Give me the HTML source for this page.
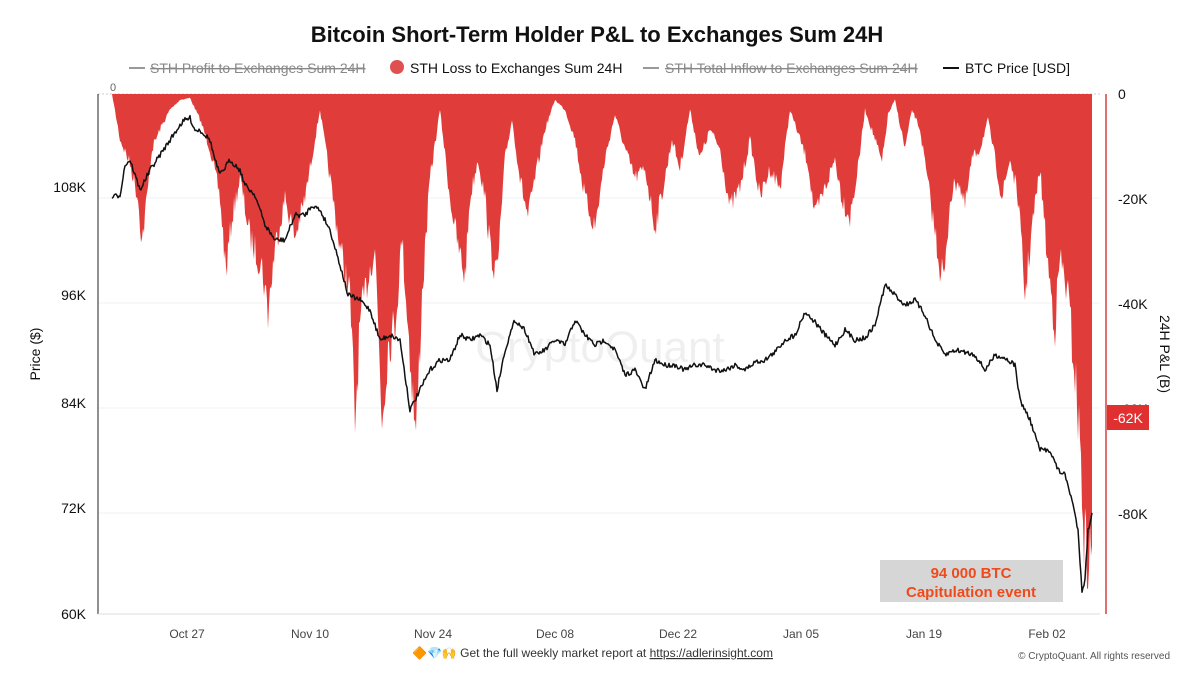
<!DOCTYPE html><html><head><meta charset="utf-8"><style>
body{margin:0;width:1200px;height:675px;background:#fff;font-family:"Liberation Sans",sans-serif;overflow:hidden}
</style></head><body>
<svg width="1200" height="675" xmlns="http://www.w3.org/2000/svg" font-family="Liberation Sans, sans-serif">
<text x="597" y="42" text-anchor="middle" font-size="22" font-weight="bold" fill="#111">Bitcoin Short-Term Holder P&amp;L to Exchanges Sum 24H</text>
<g font-size="14">
<line x1="129" y1="68" x2="145" y2="68" stroke="#999" stroke-width="2"/>
<text x="150" y="73" fill="#888" text-decoration="line-through">STH Profit to Exchanges Sum 24H</text>
<circle cx="397" cy="67" r="7" fill="#e05050"/>
<text x="410" y="73" fill="#111">STH Loss to Exchanges Sum 24H</text>
<line x1="643" y1="68" x2="659" y2="68" stroke="#999" stroke-width="2"/>
<text x="665" y="73" fill="#888" text-decoration="line-through">STH Total Inflow to Exchanges Sum 24H</text>
<line x1="943" y1="68" x2="959" y2="68" stroke="#111" stroke-width="2"/>
<text x="965" y="73" fill="#111">BTC Price [USD]</text>
</g>
<g stroke="#f0f0f0"><line x1="98" y1="94" x2="1100" y2="94" stroke-dasharray="2 2" stroke="#ccc"/><line x1="98" y1="198" x2="1100" y2="198"/><line x1="98" y1="303" x2="1100" y2="303"/><line x1="98" y1="408" x2="1100" y2="408"/><line x1="98" y1="513" x2="1100" y2="513"/></g>
<path id="red" fill="#e03c3a" d=""/>
<text x="600" y="362" text-anchor="middle" font-size="44" fill="#000" opacity="0.06">CryptoQuant</text>
<path id="price" fill="none" stroke="#111" stroke-width="1.5" stroke-linejoin="round" d=""/>
<line x1="98" y1="94" x2="98" y2="614" stroke="#222"/>
<line x1="98" y1="614" x2="1100" y2="614" stroke="#ddd"/>
<line x1="1106" y1="94" x2="1106" y2="614" stroke="#e07070" stroke-width="2"/>
<text x="110" y="91" font-size="11" fill="#666">0</text>
<g font-size="14" fill="#111" text-anchor="end"><text x="86" y="192">108K</text><text x="86" y="300">96K</text><text x="86" y="408">84K</text><text x="86" y="513">72K</text><text x="86" y="619">60K</text></g>
<g font-size="14" fill="#111"><text x="1118" y="99">0</text><text x="1118" y="204">-20K</text><text x="1118" y="309">-40K</text><text x="1118" y="414">-60K</text><text x="1118" y="519">-80K</text></g>
<rect x="1107" y="405" width="42" height="25" fill="#e03030"/><text x="1128" y="423" font-size="14" fill="#fff" text-anchor="middle">-62K</text>
<text transform="translate(40,354) rotate(-90)" font-size="14" text-anchor="middle" fill="#111">Price ($)</text>
<text transform="translate(1160,354) rotate(90)" font-size="14" text-anchor="middle" fill="#111">24H P&amp;L (B)</text>
<g font-size="12" fill="#444" text-anchor="middle"><text x="187" y="638">Oct 27</text><text x="310" y="638">Nov 10</text><text x="433" y="638">Nov 24</text><text x="555" y="638">Dec 08</text><text x="678" y="638">Dec 22</text><text x="801" y="638">Jan 05</text><text x="924" y="638">Jan 19</text><text x="1047" y="638">Feb 02</text></g>
<rect x="880" y="560" width="183" height="42" fill="#d6d6d6"/>
<text x="971" y="578" text-anchor="middle" font-size="15" font-weight="bold" fill="#f04a1a">94 000 BTC</text>
<text x="971" y="597" text-anchor="middle" font-size="15" font-weight="bold" fill="#f04a1a">Capitulation event</text>
<text x="412" y="657" font-size="12" fill="#333">🔶💎🙌 Get the full weekly market report at <tspan text-decoration="underline">https://adlerinsight.com</tspan></text>
<text x="1170" y="659" font-size="10" fill="#555" text-anchor="end">© CryptoQuant. All rights reserved</text>
</svg>
<script>
var R=[112,94,120,140,130,165,138,200,142,245,148,190,152,150,160,130,170,110,180,100,190,98,200,120,210,150,220,200,226,275,232,220,240,180,250,240,262,270,268,316,275,250,285,200,295,240,305,200,310,170,320,110,330,180,340,250,350,300,355,430,360,330,368,280,375,250,382,425,388,350,395,330,402,240,408,330,416,445,422,300,430,180,440,110,450,200,458,250,465,280,470,200,478,160,485,200,490,250,497,280,505,160,512,120,520,180,528,220,535,180,545,130,555,100,565,110,575,140,585,200,595,230,605,160,615,115,625,150,635,180,645,170,655,230,665,180,672,140,680,170,690,110,700,160,710,130,720,150,730,210,740,190,750,140,760,200,770,170,780,190,790,110,800,140,808,165,815,220,825,190,835,160,842,200,850,220,858,170,865,110,875,140,882,165,888,115,895,100,905,150,912,110,920,130,930,200,940,270,945,280,950,200,958,180,965,210,972,160,980,150,988,120,995,160,1002,200,1010,160,1018,200,1025,300,1032,230,1040,170,1048,270,1055,330,1060,260,1068,300,1075,380,1080,450,1085,560,1090,570,1092,560];
var P=[112,197,120,195,125,165,130,160,140,190,145,180,150,170,160,155,170,140,180,125,185,120,190,118,195,130,200,130,210,140,215,160,220,175,230,160,240,170,245,185,255,195,265,225,275,240,285,240,295,215,305,215,312,205,320,210,330,230,340,265,348,295,360,300,370,310,380,340,390,335,400,340,410,410,420,390,430,370,440,360,450,360,460,335,470,340,480,335,490,345,497,390,505,350,515,320,525,330,535,355,545,350,555,340,565,345,575,320,585,335,595,345,605,340,615,350,625,375,635,370,645,390,655,360,665,365,675,365,685,370,695,365,705,365,715,370,725,370,735,365,745,370,755,362,765,360,775,352,785,340,795,335,805,312,815,322,825,335,835,345,845,330,855,340,865,338,875,325,885,285,895,295,905,305,915,300,925,315,935,340,945,355,955,350,965,352,975,355,985,370,995,355,1005,358,1015,365,1020,400,1030,420,1040,450,1050,450,1058,470,1065,475,1072,500,1078,530,1082,590,1085,580,1088,530,1092,515];
var s=7;function rnd(){s=(s*16807)%2147483647;return s/2147483647;}
function interp(A,x){for(var i=0;i<A.length-2;i+=2){if(x<=A[i+2]){var t=(x-A[i])/(A[i+2]-A[i]);return A[i+1]+t*(A[i+3]-A[i+1]);}}return A[A.length-1];}
var d="M112,94";for(var x=112;x<=1092;x+=1){var y=interp(R,x);var dep=y-94;y=94+dep*(0.88+0.2*rnd());d+=" L"+x+","+y.toFixed(1);}d+=" L1092,94Z";
document.getElementById('red').setAttribute('d',d);
var p="";for(var x=112;x<=1092;x+=1){var y=interp(P,x)+(rnd()-0.5)*5;p+=(x==112?"M":" L")+x+","+y.toFixed(1);}
document.getElementById('price').setAttribute('d',p);
</script>
</body></html>
